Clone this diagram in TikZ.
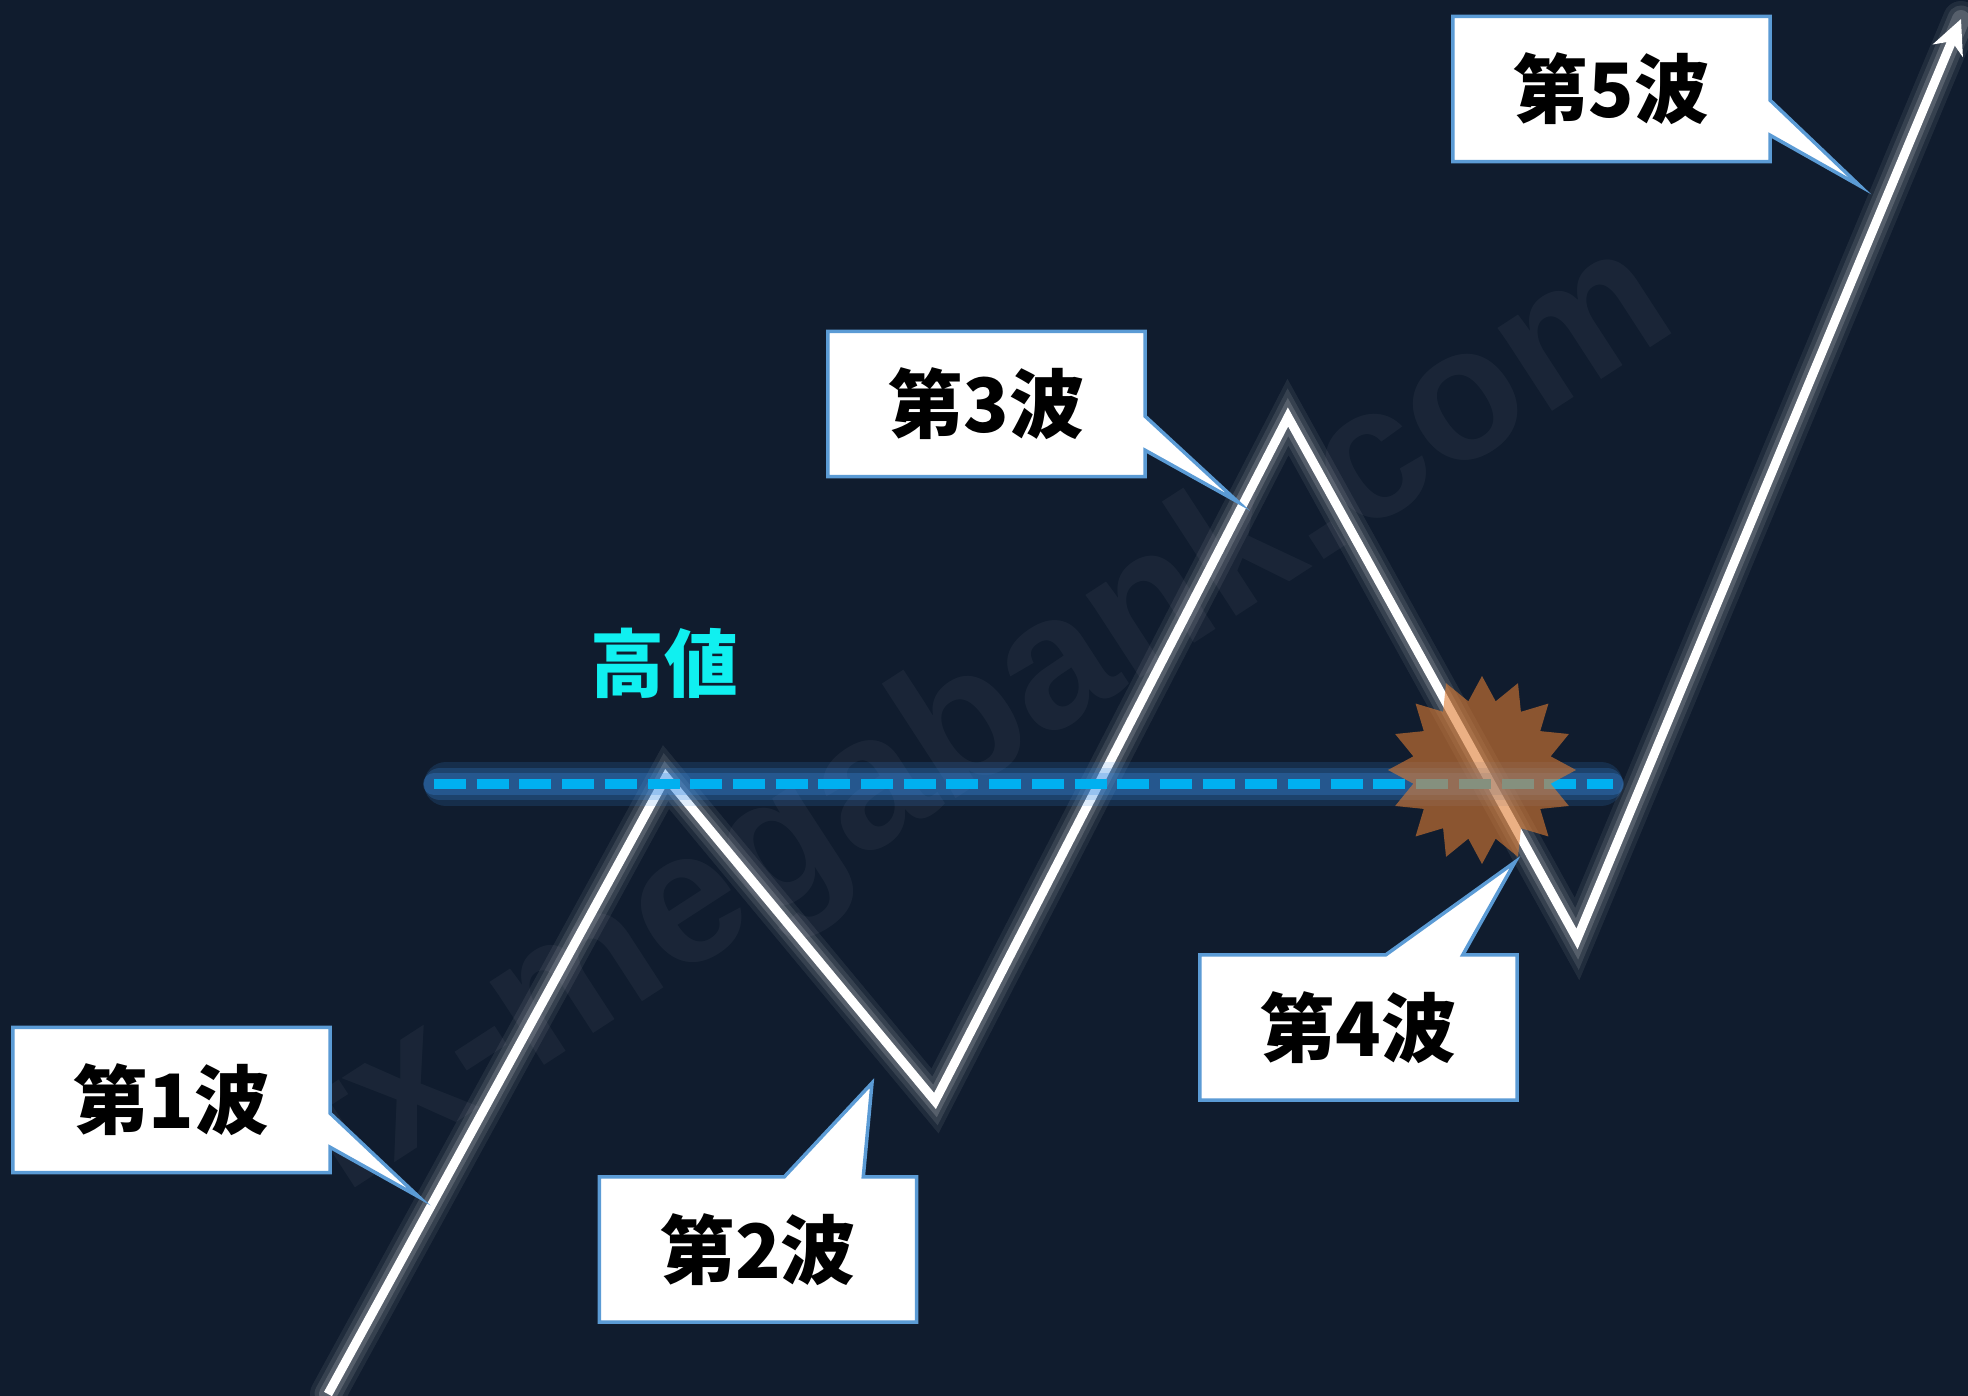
\documentclass[tikz,border=0pt]{standalone}
\usepackage{fontspec}
\newfontfamily\cjk{Noto Sans CJK JP}
\newfontfamily\wmfont{Liberation Sans}
\usetikzlibrary{arrows.meta,calc}
\definecolor{bgnavy}{HTML}{101C2E}
\definecolor{boxblue}{HTML}{5B9BD5}
\definecolor{dashblue}{HTML}{00B0F0}
\definecolor{glowblue}{HTML}{3A8EE6}
\definecolor{starorange}{HTML}{DE7C32}
\definecolor{highcyan}{HTML}{10F0F0}
\pgfdeclarelayer{back}
\pgfdeclarelayer{boxes}
\pgfsetlayers{back,boxes,main}
\begin{document}
\begin{tikzpicture}[x=1pt,y=-1pt,
  wavelabel/.style={minimum width=317pt, minimum height=145pt, inner sep=0pt,
    font={\cjk\bfseries\fontsize{75pt}{80pt}\selectfont}, text=black},
  calloutline/.style={fill=white, draw=boxblue, line width=3.5pt, line join=miter},
  glowline/.style={white, line join=miter, line cap=round},
  wavepath/.style={white, line width=9pt, line join=miter,
    -{Stealth[length=34pt,width=32pt,inset=10pt]}},
  dashline/.style={dashblue, line width=10pt, dash pattern=on 32pt off 10.7pt},
  dashglow/.style={glowblue, line cap=round}]

\useasboundingbox (0,0) rectangle (1968,1396);

% coordinates of the wave
\coordinate (p0) at (328,1394);
\coordinate (p1) at (666,777);
\coordinate (p2) at (935,1101);
\coordinate (p3) at (1288,417);
\coordinate (p4) at (1577,939);
\coordinate (p5) at (1961,19);
\coordinate (d0) at (434,784);
\coordinate (d1) at (1613,784);
% callout tips
\coordinate (t1) at (419,1197);
\coordinate (t2) at (872,1083);
\coordinate (t3) at (1238,502);
\coordinate (t4) at (1515,862);
\coordinate (t5) at (1860,186);

\begin{pgfonlayer}{back}
  \fill[bgnavy] (0,0) rectangle (1968,1396);
  \node[rotate=33, opacity=0.045, text=white, inner sep=0pt,
        font={\wmfont\bfseries\fontsize{188pt}{188pt}\selectfont}] (wm) at (985,722) {fx-megabank.com};
  % glow of the wave
  \draw[glowline, opacity=0.07, line width=36pt] (p0) -- (p1) -- (p2) -- (p3) -- (p4) -- (p5);
  \draw[glowline, opacity=0.10, line width=27pt] (p0) -- (p1) -- (p2) -- (p3) -- (p4) -- (p5);
  \draw[glowline, opacity=0.16, line width=18pt] (p0) -- (p1) -- (p2) -- (p3) -- (p4) -- (p5);
  \draw[wavepath] (p0) -- (p1) -- (p2) -- (p3) -- (p4) -- (p5);
  % dashed high line
  \draw[dashglow, opacity=0.16, line width=44pt] ([xshift=12pt]d0) -- ([xshift=-12pt]d1);
  \draw[dashglow, opacity=0.22, line width=32pt] ([xshift=6pt]d0) -- ([xshift=-6pt]d1);
  \draw[dashglow, opacity=0.28, line width=22pt] (d0) -- (d1);
  \draw[dashline] (d0) -- (d1);
  % starburst
  \fill[starorange, opacity=0.6] plot[samples at={0,...,31}]
    ({1482+ifthenelse(mod(\x,2)==0,94,70)*cos(\x*11.25)},
     {770+ifthenelse(mod(\x,2)==0,94,70)*sin(\x*11.25)}) -- cycle;
\end{pgfonlayer}

% label nodes
\node[wavelabel] (w1) at (171.5,1100) {\raisebox{4pt}{第1波}};
\node[wavelabel] (w2) at (758,1249.5) {\raisebox{4pt}{第2波}};
\node[wavelabel] (w3) at (986.5,404) {\raisebox{4pt}{第3波}};
\node[wavelabel] (w4) at (1358.5,1027.5) {\raisebox{4pt}{第4波}};
\node[wavelabel] (w5) at (1611.5,89) {\raisebox{4pt}{第5波}};
\node[text=highcyan, font={\cjk\bfseries\fontsize{74pt}{80pt}\selectfont}] (high) at (664,663) {高値};

\begin{pgfonlayer}{boxes}
  \draw[calloutline] (w1.north west) -- (w1.north east) -- ($(w1.north east)+(0,86)$) -- (t1)
     -- ($(w1.north east)+(0,120)$) -- (w1.south east) -- (w1.south west) -- cycle;
  \draw[calloutline] (w3.north west) -- (w3.north east) -- ($(w3.north east)+(0,85)$) -- (t3)
     -- ($(w3.north east)+(0,119)$) -- (w3.south east) -- (w3.south west) -- cycle;
  \draw[calloutline] (w5.north west) -- (w5.north east) -- ($(w5.north east)+(0,84)$) -- (t5)
     -- ($(w5.north east)+(0,119)$) -- (w5.south east) -- (w5.south west) -- cycle;
  \draw[calloutline] (w2.north west) -- ($(w2.north west)+(185,0)$) -- (t2)
     -- ($(w2.north west)+(264,0)$) -- (w2.north east) -- (w2.south east) -- (w2.south west) -- cycle;
  \draw[calloutline] (w4.north west) -- ($(w4.north west)+(186,0)$) -- (t4)
     -- ($(w4.north west)+(263,0)$) -- (w4.north east) -- (w4.south east) -- (w4.south west) -- cycle;
\end{pgfonlayer}
\end{tikzpicture}
\end{document}
